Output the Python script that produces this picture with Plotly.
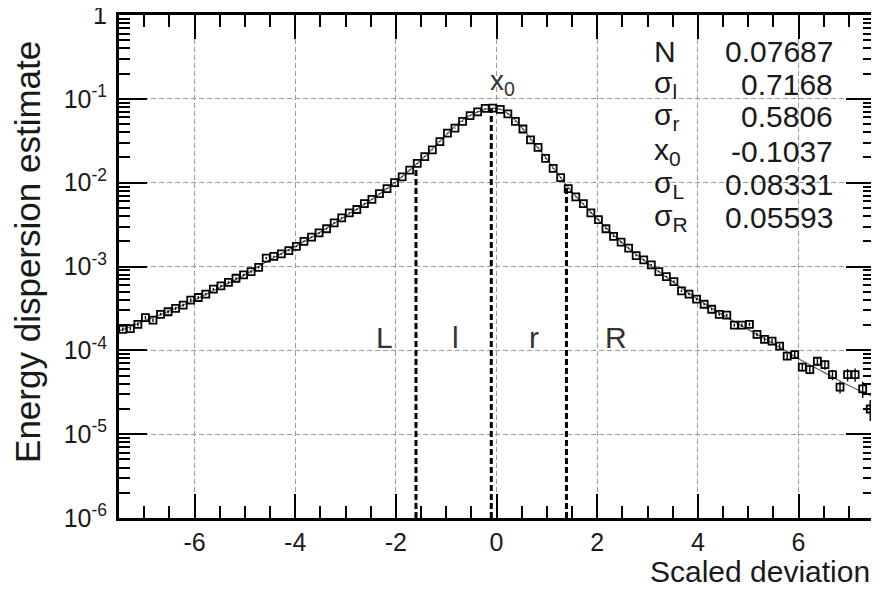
import numpy as np
import plotly.graph_objects as go

# ---------------- data ----------------
bin_centers = [round(-7.425 + 0.15 * i, 3) for i in range(100)]
log10_counts = [
    -3.75, -3.74, -3.69, -3.61, -3.64, -3.57, -3.54, -3.50, -3.46, -3.40,
    -3.37, -3.33, -3.27, -3.23, -3.19, -3.14, -3.10, -3.06, -3.01, -2.90,
    -2.88, -2.85, -2.81, -2.76, -2.70, -2.65, -2.60, -2.55, -2.48, -2.42,
    -2.36, -2.32, -2.25, -2.20, -2.13, -2.07, -2.00, -1.93, -1.85, -1.77,
    -1.69, -1.61, -1.51, -1.41, -1.35, -1.27, -1.20, -1.155, -1.115, -1.11,
    -1.125, -1.18, -1.27, -1.36, -1.49, -1.58, -1.71, -1.83, -1.94, -2.07,
    -2.17, -2.25, -2.36, -2.44, -2.55, -2.64, -2.71, -2.78, -2.87, -2.92,
    -2.98, -3.06, -3.12, -3.18, -3.29, -3.33, -3.39, -3.45, -3.51, -3.57,
    -3.58, -3.70, -3.70, -3.69, -3.81, -3.87, -3.89, -3.95, -4.07, -4.05,
    -4.20, -4.23, -4.13, -4.17, -4.29, -4.44, -4.29, -4.29, -4.46, -4.70,
]
rel_err = [
    0.05, 0.05, 0.05, 0.05, 0.05, 0.04, 0.04, 0.04, 0.04, 0.04,
    0.04, 0.03, 0.03, 0.03, 0.03, 0.03, 0.03, 0.03, 0.03, 0.03,
    0.02, 0.02, 0.02, 0.02, 0.02, 0.02, 0.02, 0.02, 0.02, 0.02,
    0.02, 0.02, 0.02, 0.01, 0.01, 0.01, 0.01, 0.01, 0.01, 0.01,
    0.01, 0.01, 0.01, 0.01, 0.01, 0.01, 0.01, 0.01, 0.01, 0.01,
    0.01, 0.01, 0.01, 0.01, 0.01, 0.01, 0.01, 0.01, 0.01, 0.01,
    0.01, 0.01, 0.02, 0.02, 0.02, 0.02, 0.02, 0.02, 0.02, 0.02,
    0.02, 0.02, 0.02, 0.03, 0.03, 0.03, 0.03, 0.03, 0.03, 0.04,
    0.04, 0.04, 0.05, 0.05, 0.05, 0.06, 0.06, 0.07, 0.08, 0.08,
    0.12, 0.12, 0.12, 0.13, 0.14, 0.16, 0.17, 0.18, 0.22, 0.28,
]

fit_x = [-7.5, -7.0, -6.5, -6.0, -5.5, -5.0, -4.5, -4.0, -3.5, -3.0, -2.5,
         -2.0, -1.5, -1.0, -0.75, -0.5, -0.3, -0.1037, 0.1, 0.3, 0.5, 0.75,
         1.0, 1.25, 1.5, 2.0, 2.5, 3.0, 3.5, 4.0, 4.5, 5.0, 5.5, 6.0, 6.5,
         7.0, 7.5]
fit_log10 = [-3.77, -3.65, -3.53, -3.40, -3.25, -3.10, -2.92, -2.76, -2.59,
             -2.40, -2.21, -1.99, -1.73, -1.43, -1.29, -1.19, -1.14, -1.114,
             -1.13, -1.21, -1.34, -1.53, -1.72, -1.92, -2.11, -2.43, -2.72,
             -2.96, -3.18, -3.39, -3.58, -3.75, -3.92, -4.10, -4.26, -4.42,
             -4.56]

region_bounds = [-1.6, -0.1037, 1.39]
region_tops = [0.0148, 0.07687, 0.0087]
region_labels = ["L", "l", "r", "R"]
region_label_x = [-2.22, -0.81, 0.75, 2.38]

stat_names = ["N", "σ<sub>l</sub>", "σ<sub>r</sub>", "x<sub>0</sub>",
              "σ<sub>L</sub>", "σ<sub>R</sub>"]
stat_values = ["0.07687", "0.7168", "0.5806", "-0.1037", "0.08331", "0.05593"]

x_ticks = [-6, -4, -2, 0, 2, 4, 6]
y_tick_exps = [-6, -5, -4, -3, -2, -1, 0]

# ---------------- figure ----------------
FONT = "Liberation Sans, Arial, Helvetica, sans-serif"
TXT = "#1a1a1a"
counts = 10 ** np.array(log10_counts)
errs = counts * np.array(rel_err)

fig = go.Figure()
fig.add_trace(go.Scatter(
    x=fit_x, y=10 ** np.array(fit_log10), mode="lines",
    line=dict(color="#606060", width=1.2, shape="spline"),
    showlegend=False, hoverinfo="skip"))
fig.add_trace(go.Scatter(
    x=bin_centers, y=counts, mode="markers",
    marker=dict(symbol="square-open", size=7, color="black",
                line=dict(color="black", width=1.8)),
    error_y=dict(type="data", array=errs, visible=True, color="black",
                 thickness=1.4, width=0),
    showlegend=False))
for b, t in zip(region_bounds, region_tops):
    fig.add_trace(go.Scatter(
        x=[b, b], y=[1e-6, t], mode="lines",
        line=dict(color="black", width=3, dash="6px,3px"),
        showlegend=False, hoverinfo="skip"))

ytext = ["1" if e == 0 else f"10<sup>{e}</sup>" for e in y_tick_exps]
minor_y = [m * 10.0 ** e for e in range(-6, 0) for m in range(2, 10)]

# page has an 8px body margin: figure is sized/placed to compensate
fig.update_layout(
    width=871, height=581,
    margin=dict(l=111, r=5, t=7, b=71, autoexpand=False),
    paper_bgcolor="white", plot_bgcolor="white",
    font=dict(family=FONT, color=TXT),
    xaxis=dict(
        range=[-7.5, 7.5], automargin=False, showline=True, linewidth=3,
        linecolor="black",
        mirror="ticks", ticks="inside", ticklen=24, tickwidth=2,
        tickcolor="black", tickvals=x_ticks,
        ticktext=[str(v) for v in x_ticks],
        tickfont=dict(size=25, family=FONT, color=TXT),
        ticklabelstandoff=0, ticklabeloverflow="allow",
        showgrid=True, gridcolor="#9a9a9a", gridwidth=1, griddash="5px,3px",
        zeroline=False,
        minor=dict(ticks="inside", ticklen=12, tickwidth=2, tickcolor="black",
                   dtick=0.5, tick0=0, showgrid=False),
    ),
    yaxis=dict(
        type="log", range=[-6, 0], automargin=False, showline=True,
        linewidth=3, linecolor="black", mirror="ticks", ticks="inside",
        ticklen=28, tickwidth=2, tickcolor="black",
        tickvals=[10.0 ** e for e in y_tick_exps], ticktext=ytext,
        tickfont=dict(size=25, family=FONT, color=TXT),
        ticklabelstandoff=4, ticklabeloverflow="allow",
        showgrid=True, gridcolor="#9a9a9a", gridwidth=1, griddash="5px,3px",
        zeroline=False,
        minor=dict(ticks="inside", ticklen=11, tickwidth=2, tickcolor="black",
                   tickvals=minor_y, showgrid=False),
    ),
)

ann = []
row_logy = [-0.43, -0.83, -1.21, -1.63, -2.02, -2.42]
for name, val, yy in zip(stat_names, stat_values, row_logy):
    ann.append(dict(x=3.08, y=yy, xref="x", yref="y", text=name,
                    showarrow=False, xanchor="left", yanchor="middle",
                    font=dict(size=30, family=FONT, color=TXT)))
    ann.append(dict(x=6.72, y=yy, xref="x", yref="y", text=val,
                    showarrow=False, xanchor="right", yanchor="middle",
                    font=dict(size=30, family=FONT, color=TXT)))
ann.append(dict(x=-0.16, y=-0.8, xref="x", yref="y", text="x<sub>0</sub>",
                showarrow=False, xanchor="left", yanchor="middle",
                font=dict(size=28, family=FONT, color="#333333")))
for lab, lx in zip(region_labels, region_label_x):
    ann.append(dict(x=lx, y=-3.85, xref="x", yref="y", text=lab,
                    showarrow=False, xanchor="center", yanchor="middle",
                    font=dict(size=30, family=FONT, color="#333333")))
ann.append(dict(x=0.997, y=-0.106, xref="paper", yref="paper",
                text="Scaled deviation", showarrow=False, xanchor="right",
                yanchor="middle", font=dict(size=30, family=FONT, color=TXT)))
ann.append(dict(x=-0.1205, y=0.529, xref="paper", yref="paper",
                text="Energy dispersion estimate", showarrow=False,
                textangle=-90, xanchor="center", yanchor="middle",
                font=dict(size=35, family=FONT, color=TXT)))
fig.update_layout(annotations=ann)

fig.write_html("out.html")
